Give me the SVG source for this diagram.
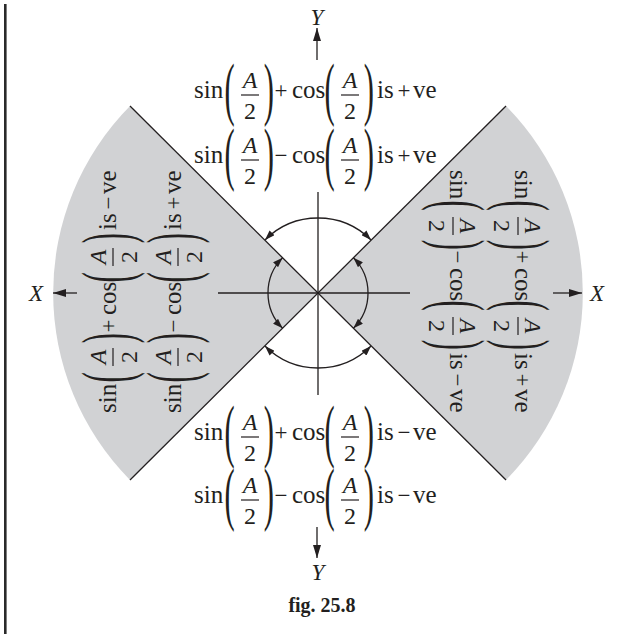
<svg xmlns="http://www.w3.org/2000/svg" width="623" height="634" viewBox="0 0 623 634">
<style>
text{font-family:"Liberation Serif","Times New Roman",serif;fill:#231f20}
.t{font-size:25px}
.s{font-size:23px;text-anchor:middle}
.ax{font-size:23px;font-style:italic;text-anchor:middle}
.ln{stroke:#231f20;stroke-width:1.3;fill:none}
.cap{font-size:20px;font-weight:bold;text-anchor:middle}
</style>
<defs>
<marker id="axh" markerUnits="userSpaceOnUse" markerWidth="13" markerHeight="8" refX="13" refY="4" orient="auto-start-reverse"><path d="M0,0 L13,4 L0,8 z" fill="#231f20"/></marker>
<marker id="arh" markerUnits="userSpaceOnUse" markerWidth="10" markerHeight="7" refX="10" refY="3.5" orient="auto-start-reverse"><path d="M0,0 L10,3.5 L0,7 z" fill="#231f20"/></marker>
<g id="pf" font-family="Liberation Serif, Times New Roman, serif" fill="#231f20">
<text font-size="18" transform="translate(30.4,14.1) scale(1.7,3.9)">(</text>
<text font-size="24" font-style="italic" text-anchor="middle" x="56" y="-10">A</text>
<line stroke="#231f20" stroke-width="1.2" x1="47" y1="-3" x2="65" y2="-3"/>
<text font-size="24" text-anchor="middle" x="56" y="21">2</text>
<text font-size="18" transform="translate(69.8,14.1) scale(1.7,3.9)">)</text>
</g>
</defs>
<rect x="4" y="4" width="2.6" height="630" fill="#2a2a2a"/>
<g id="sectors">
<path d="M318,293 L130,106 A266,266 0 0 0 130,480 Z" fill="#d1d2d4"/>
<path d="M318,293 L506,106 A266,266 0 0 1 506,480 Z" fill="#d1d2d4"/>
</g>
<g id="connectors">
<line class="ln" x1="130" y1="106" x2="506" y2="480"/>
<line class="ln" x1="506" y1="106" x2="130" y2="480"/>
<line class="ln" x1="218" y1="293" x2="410" y2="293"/>
<line class="ln" x1="318" y1="192" x2="318" y2="395"/>
<line class="ln" x1="317" y1="60" x2="317" y2="28" marker-end="url(#axh)"/>
<line class="ln" x1="317" y1="527" x2="317" y2="558" marker-end="url(#axh)"/>
<line class="ln" x1="77" y1="293" x2="53" y2="293" marker-end="url(#axh)"/>
<line class="ln" x1="553" y1="293" x2="582" y2="293" marker-end="url(#axh)"/>
<path class="ln" d="M264.97,239.97 A75,75 0 0 1 371.03,239.97" marker-start="url(#arh)" marker-end="url(#arh)"/>
<path class="ln" d="M264.97,346.03 A75,75 0 0 0 371.03,346.03" marker-start="url(#arh)" marker-end="url(#arh)"/>
<path class="ln" d="M282.64,257.64 A50,50 0 0 0 282.64,328.36" marker-start="url(#arh)" marker-end="url(#arh)"/>
<path class="ln" d="M353.36,257.64 A50,50 0 0 1 353.36,328.36" marker-start="url(#arh)" marker-end="url(#arh)"/>
</g>
<g id="axis-labels">
<text class="ax" x="317" y="25">Y</text>
<text class="ax" x="318" y="580">Y</text>
<text class="ax" x="36" y="301">X</text>
<text class="ax" x="597" y="301">X</text>
</g>
<g id="top1" transform="translate(194,98)">
<text class="t" x="0" y="0">sin</text><use href="#pf"/><text class="s" x="87" y="0">+</text><text class="t" x="98" y="0">cos</text><use href="#pf" x="100"/><text class="t" x="183" y="0">is</text><text class="s" x="210" y="0">+</text><text class="t" x="219" y="0">ve</text>
</g>
<g id="top2" transform="translate(194,163)">
<text class="t" x="0" y="0">sin</text><use href="#pf"/><text class="s" x="87" y="0">−</text><text class="t" x="98" y="0">cos</text><use href="#pf" x="100"/><text class="t" x="183" y="0">is</text><text class="s" x="210" y="0">+</text><text class="t" x="219" y="0">ve</text>
</g>
<g id="bottom1" transform="translate(194,440)">
<text class="t" x="0" y="0">sin</text><use href="#pf"/><text class="s" x="87" y="0">+</text><text class="t" x="98" y="0">cos</text><use href="#pf" x="100"/><text class="t" x="183" y="0">is</text><text class="s" x="210" y="0">−</text><text class="t" x="219" y="0">ve</text>
</g>
<g id="bottom2" transform="translate(194,503)">
<text class="t" x="0" y="0">sin</text><use href="#pf"/><text class="s" x="87" y="0">−</text><text class="t" x="98" y="0">cos</text><use href="#pf" x="100"/><text class="t" x="183" y="0">is</text><text class="s" x="210" y="0">−</text><text class="t" x="219" y="0">ve</text>
</g>
<g id="left1" transform="translate(116,413) rotate(-90)">
<text class="t" x="0" y="0">sin</text><use href="#pf"/><text class="s" x="87" y="0">+</text><text class="t" x="98" y="0">cos</text><use href="#pf" x="100"/><text class="t" x="183" y="0">is</text><text class="s" x="210" y="0">−</text><text class="t" x="219" y="0">ve</text>
</g>
<g id="left2" transform="translate(181,413) rotate(-90)">
<text class="t" x="0" y="0">sin</text><use href="#pf"/><text class="s" x="87" y="0">−</text><text class="t" x="98" y="0">cos</text><use href="#pf" x="100"/><text class="t" x="183" y="0">is</text><text class="s" x="210" y="0">+</text><text class="t" x="219" y="0">ve</text>
</g>
<g id="right1" transform="translate(515,170) rotate(90)">
<text class="t" x="0" y="0">sin</text><use href="#pf"/><text class="s" x="87" y="0">+</text><text class="t" x="98" y="0">cos</text><use href="#pf" x="100"/><text class="t" x="183" y="0">is</text><text class="s" x="210" y="0">+</text><text class="t" x="219" y="0">ve</text>
</g>
<g id="right2" transform="translate(450,170) rotate(90)">
<text class="t" x="0" y="0">sin</text><use href="#pf"/><text class="s" x="87" y="0">−</text><text class="t" x="98" y="0">cos</text><use href="#pf" x="100"/><text class="t" x="183" y="0">is</text><text class="s" x="210" y="0">−</text><text class="t" x="219" y="0">ve</text>
</g>
<g id="caption">
<text class="cap" x="322" y="612">fig. 25.8</text>
</g>
</svg>
